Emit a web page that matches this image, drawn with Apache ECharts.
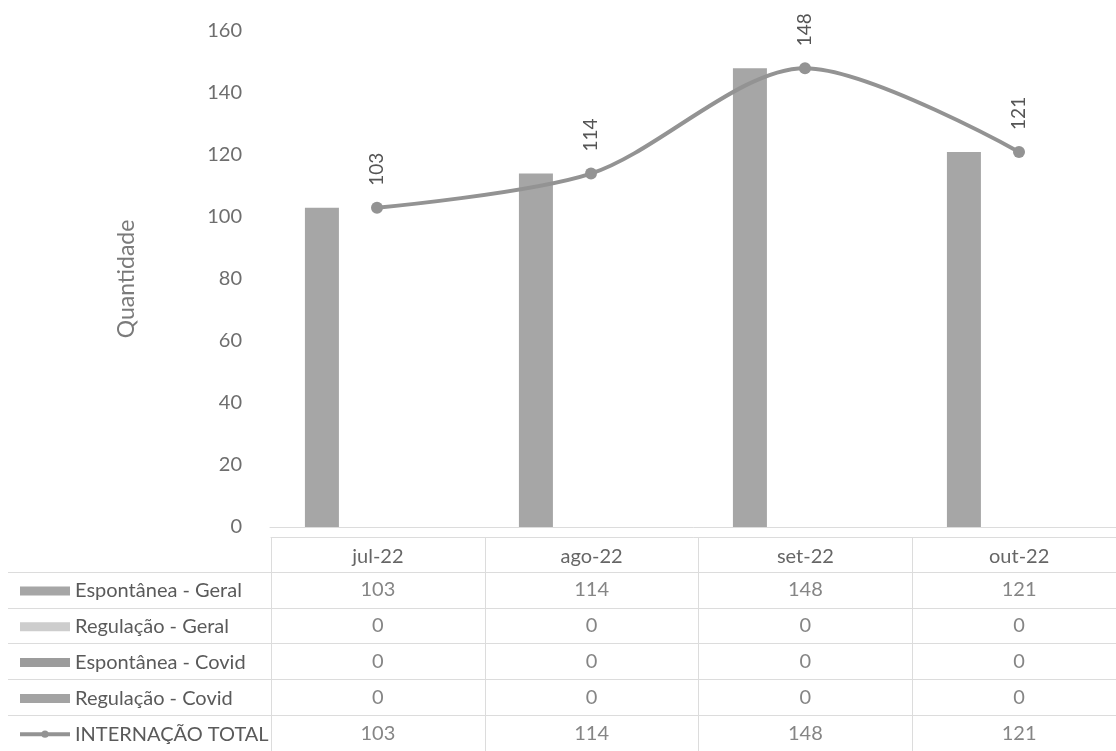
<!DOCTYPE html>
<html>
<head>
<meta charset="utf-8">
<script src="https://cdn.jsdelivr.net/npm/echarts@6/dist/echarts.min.js"></script>
<style>
  html, body { margin: 0; padding: 0; background: #ffffff; }
  #chart { width: 1116px; height: 751px; }
</style>
</head>
<body>
<div id="chart"></div>
<script>
// ---- data ----
const categories = ['jul-22', 'ago-22', 'set-22', 'out-22'];
const espontaneaGeral = [103, 114, 148, 121];
const regulacaoGeral = [0, 0, 0, 0];
const espontaneaCovid = [0, 0, 0, 0];
const regulacaoCovid = [0, 0, 0, 0];
const internacaoTotal = [103, 114, 148, 121];
const seriesNames = ['Espontânea - Geral', 'Regulação - Geral', 'Espontânea - Covid', 'Regulação - Covid', 'INTERNAÇÃO TOTAL'];
const yAxisMin = 0;
const yAxisMax = 160;
const yAxisInterval = 20;
const yAxisTitle = 'Quantidade';

// ---- build ----
const FONT = 'Lato';
const rows = [espontaneaGeral, regulacaoGeral, espontaneaCovid, regulacaoCovid, internacaoTotal];
const tableCells = [];
rows.forEach((arr, r) => arr.forEach((v, c) => tableCells.push([c, r, v])));

const barColors = ['#a6a6a6', '#cdcdcd', '#9c9c9c', '#a3a3a3'];
const lineColor = '#939393';
const gridColor = '#dcdcdc';

const chart = echarts.init(document.getElementById('chart'), null, { renderer: 'canvas' });

const barSeries = [espontaneaGeral, regulacaoGeral, espontaneaCovid, regulacaoCovid].map((arr, i) => ({
  name: seriesNames[i],
  type: 'bar',
  xAxisIndex: 0,
  yAxisIndex: 0,
  data: arr,
  barWidth: 34,
  barGap: '8%',
  itemStyle: { color: barColors[i] },
  z: 2
}));

const option = {
  animation: false,
  backgroundColor: '#ffffff',
  textStyle: { fontFamily: FONT },
  legend: {
    orient: 'vertical',
    left: 18,
    top: 579,
    padding: 0,
    itemWidth: 50,
    itemHeight: 9,
    itemGap: 11.8,
    selectedMode: false,
    textStyle: { fontFamily: FONT, fontSize: 20, color: '#5a5a5a', lineHeight: 24 },
    data: [
      { name: seriesNames[0], icon: 'rect' },
      { name: seriesNames[1], icon: 'rect' },
      { name: seriesNames[2], icon: 'rect' },
      { name: seriesNames[3], icon: 'rect' },
      { name: seriesNames[4], lineStyle: { width: 4 } }
    ]
  },
  grid: [
    { left: 270, width: 856, top: 31, bottom: 224, containLabel: false, outerBoundsMode: 'none' },
    { left: 271, width: 855, top: 572, bottom: 0, containLabel: false, outerBoundsMode: 'none' }
  ],
  xAxis: [
    {
      type: 'category', gridIndex: 0, data: categories,
      axisLine: { show: true, lineStyle: { color: gridColor, width: 1 } },
      axisTick: { show: false },
      axisLabel: { show: false },
      splitLine: { show: false }
    },
    {
      type: 'category', gridIndex: 1, data: categories, position: 'top',
      axisLine: { show: false },
      axisTick: { show: true, length: 35, interval: 0, lineStyle: { color: gridColor } },
      axisLabel: { show: true, margin: 5, fontFamily: FONT, fontSize: 20, color: '#666666' },
      splitLine: { show: true, interval: 0, lineStyle: { color: gridColor } }
    },
    {
      type: 'category', gridIndex: 1, data: categories, position: 'top', offset: 35,
      axisLine: { show: true, lineStyle: { color: gridColor } },
      axisTick: { show: false },
      axisLabel: { show: false },
      splitLine: { show: false }
    }
  ],
  yAxis: [
    {
      type: 'value', gridIndex: 0, min: yAxisMin, max: yAxisMax, interval: yAxisInterval,
      name: yAxisTitle, nameLocation: 'middle', nameGap: 132,
      nameTextStyle: { fontFamily: FONT, fontSize: 23, color: '#7a7a7a' },
      axisLine: { show: false },
      axisTick: { show: false },
      axisLabel: { margin: 28, fontFamily: FONT, fontSize: 20, color: '#6e6e6e' },
      splitLine: { show: false }
    },
    {
      type: 'category', gridIndex: 1, data: seriesNames, inverse: true,
      axisLine: { show: true, lineStyle: { color: gridColor } },
      axisTick: { show: true, length: 263, interval: 0, lineStyle: { color: gridColor } },
      axisLabel: { show: false },
      splitLine: { show: true, interval: 0, lineStyle: { color: gridColor } }
    },
    {
      type: 'category', gridIndex: 1, data: seriesNames, inverse: true, offset: 263,
      axisLine: { show: true, lineStyle: { color: gridColor } },
      axisTick: { show: false },
      axisLabel: { show: false },
      splitLine: { show: false }
    }
  ],
  series: [
    ...barSeries,
    {
      name: seriesNames[4],
      type: 'line',
      xAxisIndex: 0,
      yAxisIndex: 0,
      data: internacaoTotal,
      smooth: 0.3,
      symbol: 'circle',
      symbolSize: 12,
      lineStyle: { color: lineColor, width: 4 },
      itemStyle: { color: lineColor },
      label: {
        show: true,
        position: 'top',
        distance: 16,
        rotate: 90,
        align: 'left',
        verticalAlign: 'middle',
        fontFamily: FONT,
        fontSize: 19,
        color: '#555555'
      },
      z: 5
    },
    {
      name: 'tabela',
      type: 'scatter',
      xAxisIndex: 1,
      yAxisIndex: 1,
      data: tableCells,
      encode: { x: 0, y: 1 },
      symbolSize: 1,
      itemStyle: { color: 'rgba(0,0,0,0)' },
      label: {
        show: true,
        position: 'inside',
        formatter: p => String(p.value[2]),
        fontFamily: FONT,
        fontSize: 20,
        color: '#666666'
      },
      silent: true
    }
  ]
};

chart.setOption(option);
</script>
</body>
</html>
